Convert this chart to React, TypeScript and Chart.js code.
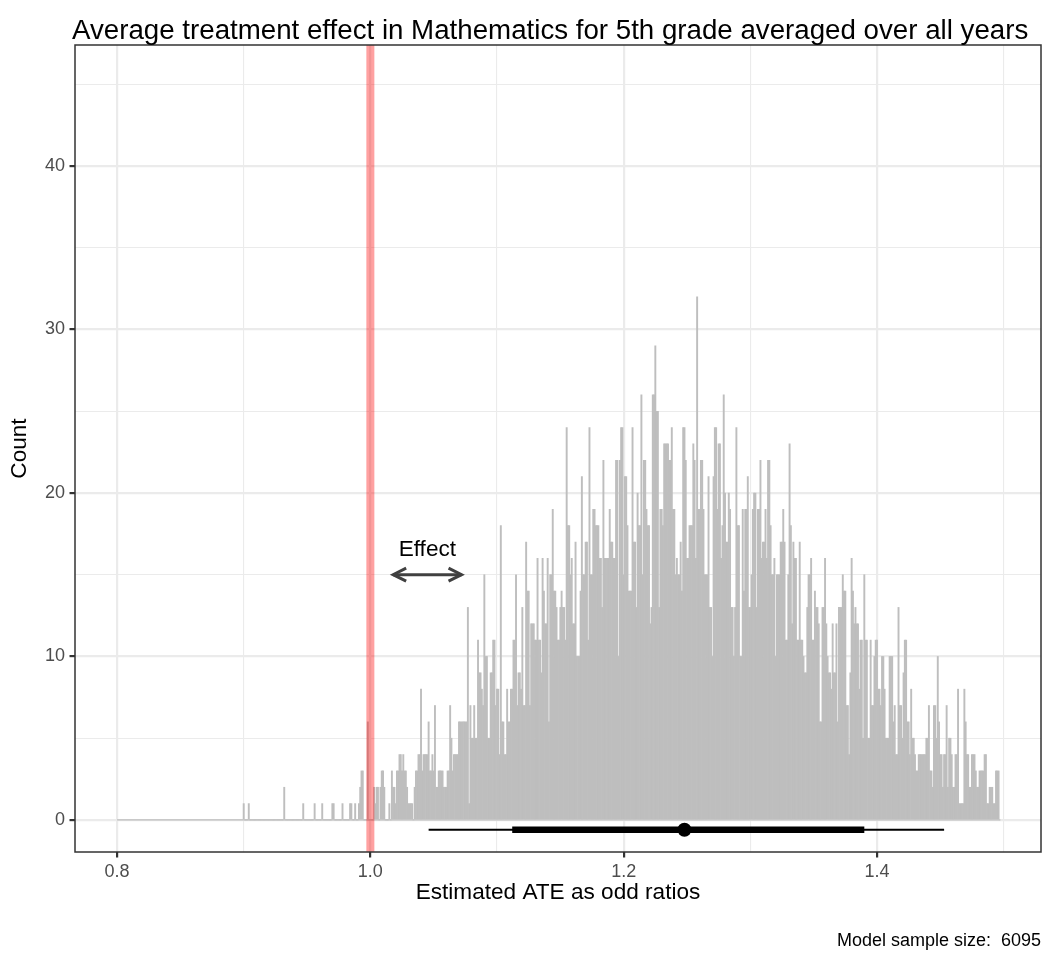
import React, { useEffect, useRef } from 'react';
import { Chart, registerables } from 'chart.js';

Chart.register(...registerables);

const FONT = "'Liberation Sans', Arial, Helvetica, sans-serif";

// Histogram of the ATE draws on the odds-ratio scale (bins of width 0.001).
const binWidth = 0.001;
const firstBinCenter = 0.9;
const histogramRange = [0.8, 1.497];
const binCounts = [
  1, 0, 0, 0, 1, 0, 0, 0, 0, 0,
  0, 0, 0, 0, 0, 0, 0, 0, 0, 0,
  0, 0, 0, 0, 0, 0, 0, 0, 0, 0,
  0, 0, 2, 0, 0, 0, 0, 0, 0, 0,
  0, 0, 0, 0, 0, 0, 0, 1, 0, 0,
  0, 0, 0, 0, 0, 0, 1, 0, 0, 0,
  0, 0, 1, 0, 0, 0, 0, 0, 0, 0,
  1, 1, 0, 0, 0, 0, 0, 0, 1, 0,
  0, 0, 0, 0, 1, 1, 0, 0, 1, 0,
  0, 1, 2, 3, 3, 0, 0, 0, 6, 0,
  0, 0, 0, 2, 1, 2, 2, 0, 2, 3,
  3, 2, 0, 0, 0, 1, 0, 3, 2, 2,
  1, 3, 3, 4, 4, 3, 4, 3, 3, 2,
  1, 1, 1, 1, 0, 2, 3, 3, 4, 4,
  8, 3, 4, 4, 4, 4, 6, 3, 3, 4,
  3, 7, 2, 2, 3, 3, 3, 3, 2, 2,
  2, 3, 3, 7, 5, 3, 4, 4, 4, 4,
  6, 6, 6, 6, 6, 6, 6, 13, 1, 7,
  5, 5, 7, 5, 5, 11, 9, 9, 8, 7,
  15, 10, 10, 5, 5, 9, 9, 11, 11, 7,
  8, 8, 4, 18, 6, 6, 4, 4, 8, 6,
  6, 8, 8, 11, 11, 15, 7, 9, 9, 8,
  13, 7, 7, 17, 14, 14, 7, 12, 12, 12,
  11, 11, 16, 11, 11, 9, 16, 14, 12, 12,
  16, 6, 15, 15, 19, 14, 14, 13, 11, 11,
  13, 14, 13, 13, 11, 24, 18, 18, 15, 16,
  12, 12, 17, 10, 10, 10, 14, 21, 15, 15,
  17, 17, 11, 24, 15, 15, 19, 19, 18, 18,
  18, 16, 16, 13, 22, 16, 16, 16, 16, 19,
  17, 17, 16, 16, 22, 22, 10, 22, 24, 24,
  15, 21, 21, 18, 14, 14, 14, 24, 17, 17,
  13, 20, 18, 18, 26, 15, 22, 22, 19, 18,
  18, 12, 13, 26, 26, 29, 25, 25, 13, 19,
  19, 18, 23, 23, 23, 23, 22, 22, 24, 19,
  19, 15, 16, 15, 15, 17, 14, 24, 24, 22,
  16, 16, 18, 18, 18, 23, 22, 16, 32, 19,
  19, 22, 22, 19, 15, 15, 15, 21, 13, 13,
  10, 21, 24, 24, 19, 23, 23, 16, 18, 26,
  20, 17, 17, 20, 19, 13, 13, 10, 13, 24,
  18, 18, 10, 10, 19, 14, 19, 19, 21, 13,
  13, 15, 19, 20, 20, 13, 19, 19, 22, 16,
  17, 17, 19, 16, 22, 22, 18, 15, 15, 16,
  10, 15, 15, 15, 17, 17, 19, 17, 11, 11,
  15, 23, 18, 12, 17, 16, 16, 11, 11, 17,
  11, 11, 10, 9, 9, 13, 15, 15, 16, 11,
  11, 14, 13, 13, 12, 6, 6, 13, 13, 16,
  12, 10, 9, 9, 8, 12, 9, 9, 12, 6,
  13, 13, 13, 15, 14, 14, 7, 7, 4, 9,
  16, 14, 12, 13, 12, 12, 8, 11, 11, 5,
  15, 11, 11, 5, 5, 11, 7, 7, 10, 11,
  11, 8, 8, 7, 10, 10, 8, 5, 5, 5,
  10, 10, 10, 6, 7, 4, 4, 13, 7, 7,
  5, 9, 11, 11, 6, 6, 4, 8, 5, 5,
  4, 3, 3, 4, 4, 4, 4, 4, 4, 5,
  5, 7, 3, 3, 2, 7, 7, 5, 10, 6,
  4, 4, 2, 4, 4, 7, 2, 5, 5, 4,
  2, 2, 4, 4, 8, 1, 1, 1, 1, 8,
  6, 4, 4, 2, 2, 4, 4, 4, 3, 2,
  2, 3, 3, 3, 3, 4, 4, 1, 1, 2,
  2, 2, 1, 1, 3, 3, 3, 0,
];

// Axis breaks and limits
const xTicks = [0.8, 0.9, 1.0, 1.1, 1.2, 1.3, 1.4, 1.5];
const xMajorTicks = [0.8, 1.0, 1.2, 1.4];
const yTicks = [0, 5, 10, 15, 20, 25, 30, 35, 40, 45];
const yMajorTicks = [0, 10, 20, 30, 40];
const xLimits = [0.7668, 1.5295];
const yLimits = [-1.96, 47.4];

// Reference line, point estimate and intervals
const nullEffect = 1.0;
const pointEstimate = 1.248;
const innerInterval = [1.112, 1.39];
const outerInterval = [1.046, 1.453];
const intervalLevel = -0.6;

// "Effect" annotation
const effectArrow = [1.018, 1.072];
const effectArrowLevel = 15;
const effectLabelPos = [1.045, 16.5];
const effectLabel = 'Effect';

const titleText = 'Average treatment effect in Mathematics for 5th grade averaged over all years';
const xTitle = 'Estimated ATE as odd ratios';
const yTitle = 'Count';
const captionText = 'Model sample size:  6095';

const isIn = (list: number[], v: number) => list.some((m) => Math.abs(m - v) < 1e-9);

const decorations = {
  id: 'decorations',
  afterDatasetsDraw(chart: any) {
    const { ctx, scales } = chart;
    const { x, y } = scales;
    const yA = y.getPixelForValue(effectArrowLevel);
    const x1 = x.getPixelForValue(effectArrow[0]);
    const x2 = x.getPixelForValue(effectArrow[1]);
    const head = 13;
    const spread = 6.5;
    ctx.save();
    ctx.strokeStyle = '#404040';
    ctx.lineWidth = 3;
    ctx.lineCap = 'butt';
    ctx.lineJoin = 'miter';
    ctx.beginPath();
    ctx.moveTo(x1, yA);
    ctx.lineTo(x2, yA);
    ctx.stroke();
    ctx.beginPath();
    ctx.moveTo(x1 + head, yA - spread);
    ctx.lineTo(x1, yA);
    ctx.lineTo(x1 + head, yA + spread);
    ctx.stroke();
    ctx.beginPath();
    ctx.moveTo(x2 - head, yA - spread);
    ctx.lineTo(x2, yA);
    ctx.lineTo(x2 - head, yA + spread);
    ctx.stroke();
    ctx.fillStyle = '#000000';
    ctx.font = `22.6px ${FONT}`;
    ctx.textAlign = 'center';
    ctx.textBaseline = 'middle';
    ctx.fillText(effectLabel, x.getPixelForValue(effectLabelPos[0]), y.getPixelForValue(effectLabelPos[1]));
    ctx.restore();
  },
  afterDraw(chart: any) {
    const { ctx, chartArea } = chart;
    ctx.save();
    ctx.strokeStyle = '#333333';
    ctx.lineWidth = 1.5;
    ctx.strokeRect(chartArea.left, chartArea.top, chartArea.right - chartArea.left, chartArea.bottom - chartArea.top);
    ctx.fillStyle = '#000000';
    ctx.textBaseline = 'alphabetic';
    ctx.font = `27.7px ${FONT}`;
    ctx.textAlign = 'left';
    ctx.fillText(titleText, chartArea.left - 3, 39);
    ctx.font = `18px ${FONT}`;
    ctx.textAlign = 'right';
    ctx.fillText(captionText, chartArea.right, 946);
    ctx.restore();
  },
};

export default function App() {
  const canvasRef = useRef<HTMLCanvasElement>(null);

  useEffect(() => {
    const canvas = canvasRef.current;
    if (!canvas) return;

    const barData = binCounts.map((c, i) => ({ x: firstBinCenter + i * binWidth, y: c }));

    const chart = new Chart(canvas, {
      type: 'bar',
      data: {
        datasets: [
          {
            type: 'line',
            data: [{ x: pointEstimate, y: intervalLevel }],
            showLine: false,
            pointRadius: 7,
            pointBackgroundColor: '#000000',
            pointBorderWidth: 0,
            order: 0,
          } as any,
          {
            type: 'line',
            data: innerInterval.map((v) => ({ x: v, y: intervalLevel })),
            borderColor: '#000000',
            borderWidth: 6.5,
            borderCapStyle: 'butt',
            pointRadius: 0,
            order: 1,
          } as any,
          {
            type: 'line',
            data: outerInterval.map((v) => ({ x: v, y: intervalLevel })),
            borderColor: '#000000',
            borderWidth: 2.2,
            borderCapStyle: 'butt',
            pointRadius: 0,
            order: 2,
          } as any,
          {
            type: 'line',
            data: [
              { x: nullEffect, y: yLimits[0] },
              { x: nullEffect, y: yLimits[1] },
            ],
            borderColor: 'rgba(255, 0, 0, 0.37)',
            borderWidth: 8,
            pointRadius: 0,
            order: 3,
          } as any,
          {
            type: 'line',
            data: histogramRange.map((v) => ({ x: v, y: 0 })),
            borderColor: '#bebebe',
            borderWidth: 1.2,
            pointRadius: 0,
            order: 4,
          } as any,
          {
            type: 'bar',
            data: barData,
            backgroundColor: '#bebebe',
            borderWidth: 0,
            barPercentage: 1,
            categoryPercentage: 1,
            order: 5,
          } as any,
        ],
      },
      options: {
        responsive: false,
        animation: false,
        devicePixelRatio: 1,
        events: [],
        layout: { padding: { top: 45, right: 7, bottom: 49.4, left: 0 } },
        plugins: {
          legend: { display: false },
          tooltip: { enabled: false },
          title: { display: false },
        },
        scales: {
          x: {
            type: 'linear',
            min: xLimits[0],
            max: xLimits[1],
            offset: false,
            afterBuildTicks: (axis: any) => {
              axis.ticks = xTicks.map((v) => ({ value: v }));
            },
            afterFit: (axis: any) => {
              axis.height = 54.6;
            },
            border: { display: false },
            grid: {
              offset: false,
              color: '#ebebeb',
              lineWidth: (c: any) => (c.tick && isIn(xMajorTicks, c.tick.value) ? 2.2 : 1.1),
              drawTicks: true,
              tickLength: 5.5,
              tickWidth: 2.2,
              tickColor: (c: any) => (c.tick && isIn(xMajorTicks, c.tick.value) ? '#333333' : 'rgba(0,0,0,0)'),
            },
            ticks: {
              autoSkip: false,
              maxRotation: 0,
              color: '#4d4d4d',
              padding: 4,
              font: { family: FONT, size: 18 },
              callback: (v: any) => (isIn(xMajorTicks, Number(v)) ? Number(v).toFixed(1) : ''),
            },
            title: {
              display: true,
              text: xTitle,
              color: '#000000',
              font: { family: FONT, size: 22.6 },
              padding: { top: 0, bottom: 0 },
            },
          },
          y: {
            type: 'linear',
            min: yLimits[0],
            max: yLimits[1],
            afterBuildTicks: (axis: any) => {
              axis.ticks = yTicks.map((v) => ({ value: v }));
            },
            afterFit: (axis: any) => {
              axis.width = 75;
            },
            border: { display: false },
            grid: {
              offset: false,
              color: '#ebebeb',
              lineWidth: (c: any) => (c.tick && isIn(yMajorTicks, c.tick.value) ? 2.2 : 1.1),
              drawTicks: true,
              tickLength: 5.5,
              tickWidth: 2.2,
              tickColor: (c: any) => (c.tick && isIn(yMajorTicks, c.tick.value) ? '#333333' : 'rgba(0,0,0,0)'),
            },
            ticks: {
              autoSkip: false,
              color: '#4d4d4d',
              padding: 4.5,
              font: { family: FONT, size: 18 },
              callback: (v: any) => (isIn(yMajorTicks, Number(v)) ? String(v) : ''),
            },
            title: {
              display: true,
              text: yTitle,
              color: '#000000',
              font: { family: FONT, size: 22.6 },
              padding: { top: 6.4, bottom: 0 },
            },
          },
        },
      },
      plugins: [decorations],
    } as any);

    return () => chart.destroy();
  }, []);

  return (
    <div style={{ position: 'absolute', left: 0, top: 0, width: 1048, height: 956, background: '#ffffff' }}>
      <canvas ref={canvasRef} width={1048} height={956} style={{ display: 'block' }} />
    </div>
  );
}
